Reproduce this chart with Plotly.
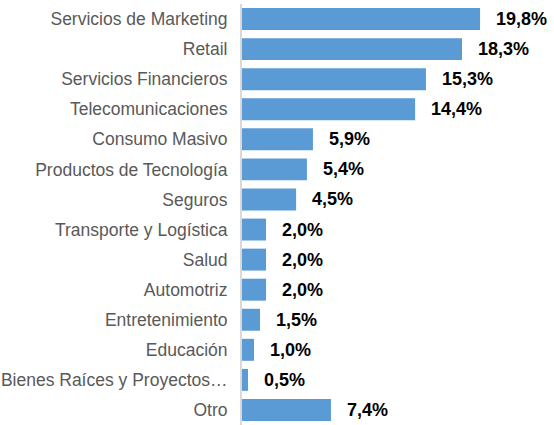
import plotly.graph_objects as go

categories = ["Servicios de Marketing", "Retail", "Servicios Financieros",
              "Telecomunicaciones", "Consumo Masivo", "Productos de Tecnología",
              "Seguros", "Transporte y Logística", "Salud", "Automotriz",
              "Entretenimiento", "Educación", "Bienes Raíces y Proyectos…", "Otro"]
values = [19.8, 18.3, 15.3, 14.4, 5.9, 5.4, 4.5, 2.0, 2.0, 2.0, 1.5, 1.0, 0.5, 7.4]
labels = [f"{v:.1f}%".replace(".", ",") for v in values]

FONT = "Liberation Sans, Arial, sans-serif"

fig = go.Figure(go.Bar(
    x=values, y=categories, orientation="h",
    marker=dict(color="#5B9BD5", line=dict(width=0)),
    width=0.73,
    hoverinfo="skip",
))

for c, v, t in zip(categories, values, labels):
    fig.add_annotation(x=v, y=c, text=f"<b>{t}</b>", showarrow=False,
                       xanchor="left", yanchor="middle", xshift=14,
                       font=dict(family=FONT, size=18, color="#000000"))

fig.update_layout(
    width=554, height=425,
    margin=dict(l=242, r=0, t=4, b=0, autoexpand=False),
    paper_bgcolor="white", plot_bgcolor="white",
    showlegend=False,
    bargap=0.27,
    font=dict(family=FONT, size=17.5, color="#595959"),
)
fig.update_xaxes(range=[0, 25.95], visible=False, showgrid=False, zeroline=False,
                 automargin=False)
fig.update_yaxes(autorange="reversed", showgrid=False, zeroline=False,
                 showline=True, linecolor="#d9d9d9", linewidth=2,
                 ticks="", ticklabelstandoff=9, automargin=False,
                 tickfont=dict(family=FONT, size=17.5, color="#595959"))

fig.write_html("out.html", config={"displayModeBar": False},
               post_script="document.body.style.margin='0';document.body.style.overflow='hidden';")
